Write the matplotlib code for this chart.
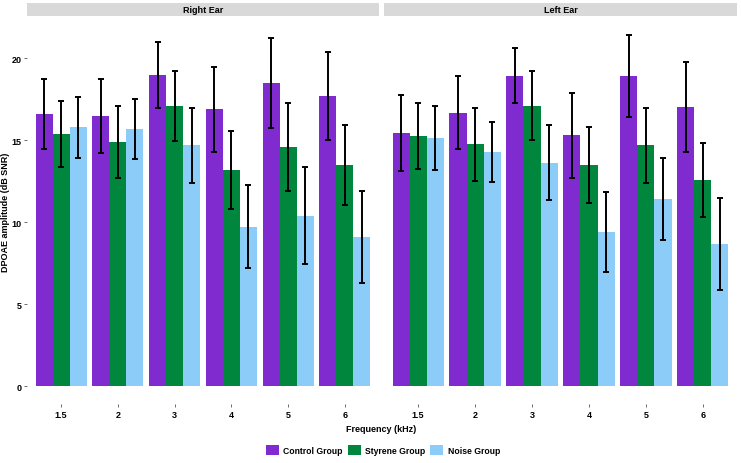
import numpy as np
import matplotlib.pyplot as plt
from matplotlib.patches import Patch

plt.rcParams['font.family'] = ['Liberation Sans', 'DejaVu Sans']

frequencies = ['1.5', '2', '3', '4', '5', '6']
groups = ['Control Group', 'Styrene Group', 'Noise Group']
colors = ['#7F2BCF', '#00873D', '#8BCDF8']

# means and SD per group, right ear
right_control = [16.6, 16.5, 19.0, 16.9, 18.5, 17.7]
right_styrene = [15.4, 14.9, 17.1, 13.2, 14.6, 13.5]
right_noise = [15.8, 15.7, 14.7, 9.75, 10.4, 9.1]
right_control_sd = [2.15, 2.25, 2.0, 2.6, 2.75, 2.7]
right_styrene_sd = [2.0, 2.2, 2.15, 2.4, 2.7, 2.45]
right_noise_sd = [1.85, 1.85, 2.3, 2.5, 2.95, 2.8]

# left ear
left_control = [15.45, 16.7, 18.95, 15.3, 18.9, 17.05]
left_styrene = [15.25, 14.75, 17.1, 13.5, 14.7, 12.6]
left_noise = [15.15, 14.3, 13.65, 9.4, 11.4, 8.7]
left_control_sd = [2.3, 2.25, 1.7, 2.6, 2.5, 2.75]
left_styrene_sd = [2.0, 2.2, 2.1, 2.3, 2.3, 2.25]
left_noise_sd = [1.95, 1.85, 2.3, 2.45, 2.5, 2.8]

fig = plt.figure(figsize=(7.41, 4.64), dpi=100)
W, H = 741, 464


def panel(x0, x1, title, means, sds, show_y):
    ax = fig.add_axes([x0 / W, 1 - 405 / H, (x1 - x0) / W, (405 - 20) / H])
    x = np.arange(len(frequencies))
    w = 0.3
    for i, (m, s) in enumerate(zip(means, sds)):
        pos = x + (i - 1) * w
        ax.bar(pos, m, width=w, color=colors[i], linewidth=0)
        ax.errorbar(pos, m, yerr=s, fmt='none', ecolor='black',
                    elinewidth=1.4, capsize=2.5, capthick=1.4)
    ax.set_xlim(-0.6, len(frequencies) - 0.4)
    ax.set_ylim(-1.07, 22.4)
    ax.set_xticks(x)
    ax.set_xticklabels(frequencies, fontsize=6.5, fontweight='bold')
    ax.set_yticks([0, 5, 10, 15, 20])
    ax.set_yticklabels(['0', '5', '10', '15', '20'], fontsize=6.5, fontweight='bold')
    ax.tick_params(length=2, width=0.6, color='#555555', pad=2)
    if not show_y:
        ax.tick_params(axis='y', left=False, labelleft=False)
    for sp in ax.spines.values():
        sp.set_visible(False)
    # strip on top
    fig.patches.append(plt.Rectangle((x0 / W, 1 - 17 / H), (x1 - x0) / W, 13 / H,
                                     transform=fig.transFigure, facecolor='#D9D9D9',
                                     edgecolor='none'))
    fig.text((x0 + x1) / 2 / W, 1 - 10.5 / H, title, ha='center', va='center',
             fontsize=6.5, fontweight='bold')
    return ax


ax1 = panel(27, 379, 'Right Ear', [right_control, right_styrene, right_noise],
            [right_control_sd, right_styrene_sd, right_noise_sd], True)
ax2 = panel(384, 737, 'Left Ear', [left_control, left_styrene, left_noise],
            [left_control_sd, left_styrene_sd, left_noise_sd], False)

fig.text(6 / W, 1 - 212 / H, 'DPOAE amplitude (dB SNR)', rotation=90,
         ha='center', va='center', fontsize=6.5, fontweight='bold')
fig.text(381 / W, 1 - 430 / H, 'Frequency (kHz)', ha='center', va='center',
         fontsize=6.5, fontweight='bold')

handles = [Patch(facecolor=c, edgecolor='none') for c in colors]
fig.legend(handles, groups, loc='center', bbox_to_anchor=(383 / W, 1 - 451 / H),
           ncol=3, frameon=False, prop={'weight': 'bold', 'size': 6.2},
           handlelength=1.5, handleheight=1.5, handletextpad=0.5, columnspacing=0.6)

fig.savefig('out.png', dpi=100)
